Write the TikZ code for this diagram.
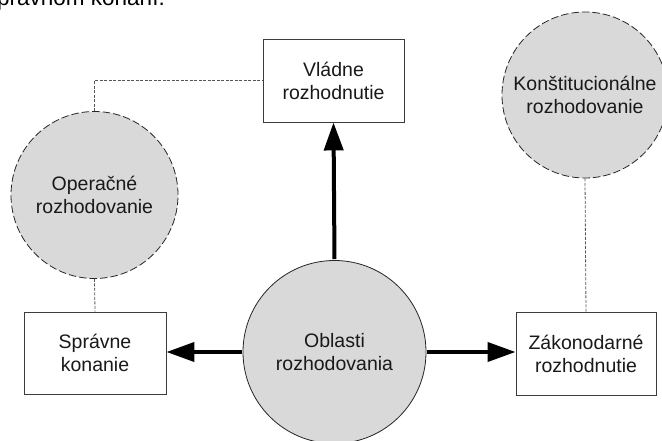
\documentclass[tikz,border=0pt]{standalone}
\usepackage{fontspec}
\setmainfont{Liberation Sans}
\usetikzlibrary{arrows.meta}
\definecolor{areafill}{RGB}{217,217,217}
\definecolor{edgegray}{RGB}{60,60,60}
\definecolor{linkgray}{RGB}{85,85,85}
\begin{document}
\begin{tikzpicture}[x=1pt,y=-1pt,
  lbl/.style={font=\fontsize{19.5}{23}\selectfont, text=black!90, align=center},
  area/.style={lbl, circle, fill=areafill, draw=black!85, line width=0.8pt, inner sep=0pt},
  softarea/.style={area, dash pattern=on 7.5pt off 3pt},
  outcome/.style={lbl, rectangle, draw=edgegray, line width=0.9pt, fill=white, inner sep=0pt},
  flow/.style={line width=4pt, draw=black, -{Triangle[length=28pt,width=19pt]}, shorten <=1pt},
  link/.style={draw=linkgray, line width=0.8pt, dash pattern=on 3pt off 1.5pt}]
  \useasboundingbox (0,0) rectangle (662,441);
  \clip (0,0) rectangle (662,441);

  % running text of the page above the figure
  \node[anchor=base east, inner sep=0pt, font=\fontsize{22.5}{26}\selectfont] (caption) at (165,6) {právnom konaní.};

  % decision areas
  \node[area, minimum size=183pt] (ob) at (334.5,352) {Oblasti\\rozhodovania};
  \node[softarea, minimum size=167pt] (op) at (94.5,195) {Operačné\\rozhodovanie};
  \node[softarea, minimum size=166pt] (ko) at (585,95) {Konštitucionálne\\rozhodovanie};

  % kinds of decisions
  \node[outcome, minimum width=141pt, minimum height=83pt] (vl) at (333.5,80.5) {Vládne\\rozhodnutie};
  \node[outcome, minimum width=142pt, minimum height=82pt] (sp) at (95,353) {Správne\\konanie};
  \node[outcome, minimum width=140pt, minimum height=83pt] (zk) at (586,353.5) {Zákonodarné\\rozhodnutie};

  % dashed links
  \draw[link] (op.north) |- (vl.west);
  \draw[link] (op.south) -- (sp.north);
  \draw[link] (ko.south) -- (zk.north);

  % arrows out of the central area
  \draw[flow] (ob.north) -- (vl.south);
  \draw[flow] (ob.west) -- (sp.east |- ob.west);
  \draw[flow] (ob.east) -- (zk.west |- ob.east);
\end{tikzpicture}
\end{document}
